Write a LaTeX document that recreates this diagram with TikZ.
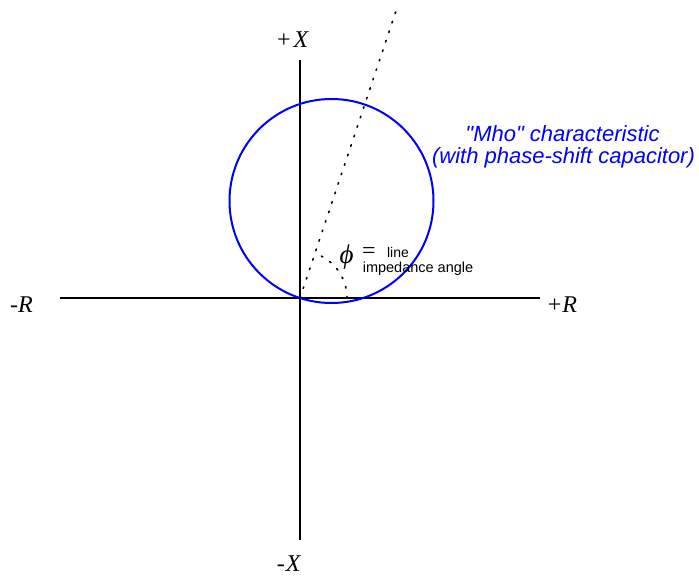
\documentclass[tikz,border=0pt]{standalone}
\usepackage{fontspec}
\setmainfont{Liberation Serif}
\newfontfamily\arial{Liberation Sans}
\begin{document}
\begin{tikzpicture}[x=1pt,y=-1pt,
  axis/.style={line width=2pt,black},
  lbl/.style={font=\fontsize{24}{27}\selectfont, inner sep=0pt},
  mho/.style={line width=2pt,color={rgb,255:red,0;green,0;blue,255}},
  dotline/.style={line width=1.6pt,dash pattern=on 1.6pt off 8.4pt,line cap=round},
  bluetxt/.style={font=\arial\itshape\fontsize{22}{26}\selectfont,text={rgb,255:red,0;green,0;blue,255},inner sep=0pt}]
\useasboundingbox (0,0) rectangle (699,578);
\coordinate (O) at (300,298);
\coordinate (top) at (300,60);
\coordinate (bot) at (300,540);
\coordinate (left) at (60,298);
\coordinate (right) at (540,298);
\coordinate (C) at (331.5,201);
\coordinate (far) at (397,8);
\draw[axis] (top) -- (bot);
\draw[axis] (left) -- (right);
\draw[mho] (C) circle[radius=102];
\draw[dotline] (O) -- (far);
\draw[dotline] ([shift={(0:47)}]O) arc[start angle=0,end angle=-71.5,radius=47];
\node[lbl] (px) at (293,40) {+\kern3pt\textit{X}};
\node[lbl] (mx) at (289,564) {-\kern1pt\textit{X}};
\node[lbl] (mr) at (21.5,305) {-\textit{R}};
\node[lbl] (pr) at (562.5,305) {+\kern1pt\textit{R}};
\node[bluetxt] (t1) at (562.5,134) {"Mho" characteristic};
\node[bluetxt] (t2) at (563.5,158) {(with phase-shift capacitor)};
\node[inner sep=0pt,font=\fontsize{27}{29}\selectfont] (phi) at (346.5,257.5) {\textit{ϕ}};
\node[inner sep=0pt,text height=9pt,text depth=0pt,font=\fontsize{24}{26}\selectfont] (eq) at (369,253.5) {=};
\node[inner sep=0pt,font=\arial\fontsize{14.5}{17}\selectfont] (imp) at (418,269) {impedance angle};
\node[inner sep=0pt,font=\arial\fontsize{14}{16}\selectfont] (line) at (398,252) {line};
\end{tikzpicture}
\end{document}
